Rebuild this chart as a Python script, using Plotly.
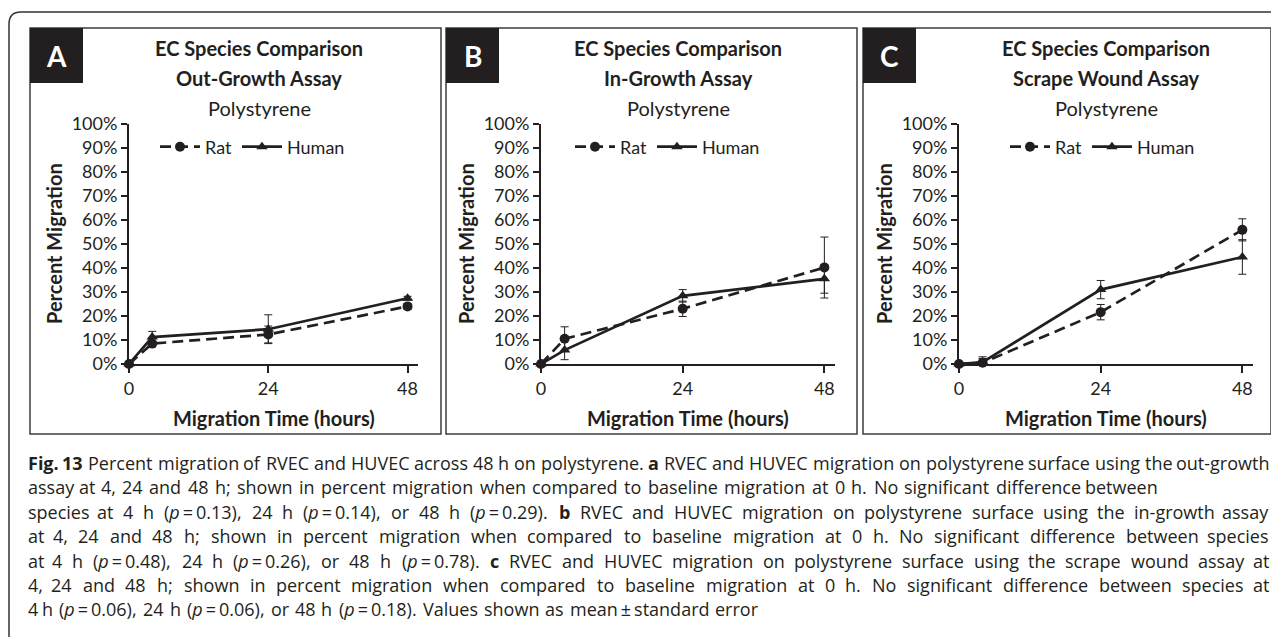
import plotly.graph_objects as go

W, H = 1279, 637
PAGE_OFFSET = 8  # default body margin of the html page

hours = [0, 4, 24, 48]
panel_keys = ["A", "B", "C"]
panel_titles = ["Out-Growth Assay", "In-Growth Assay", "Scrape Wound Assay"]

# percent migration (mean) and standard error
rat_a = [0, 8.5, 12.3, 24.0]
rat_a_err = [None, 1.0, 3.5, 1.2]
human_a = [0, 11.2, 14.5, 27.4]
human_a_err = [None, 2.4, 6.0, 0.8]

rat_b = [0, 10.5, 23.0, 40.2]
rat_b_err = [None, 5.0, 3.2, 12.7]
human_b = [0, 5.8, 28.4, 35.5]
human_b_err = [None, 4.0, 2.6, 6.0]

rat_c = [0, 0.5, 21.6, 55.9]
rat_c_err = [None, 2.5, 3.2, 4.6]
human_c = [0, 0.8, 31.0, 44.6]
human_c_err = [None, 1.5, 3.8, 7.2]

rat = [rat_a, rat_b, rat_c]
rat_err = [rat_a_err, rat_b_err, rat_c_err]
human = [human_a, human_b, human_c]
human_err = [human_a_err, human_b_err, human_c_err]

# caption, one entry per printed line (words separated by plain spaces)
caption_lines = [
    "<b>Fig.</b> <b>13</b> Percent migration of RVEC and HUVEC across 48 h on polystyrene. <b>a</b> RVEC and HUVEC migration on polystyrene surface using the out-growth",
    "assay at 4, 24 and 48 h; shown in percent migration when compared to baseline migration at 0 h. No significant difference between",
    "species at 4 h (<i>p</i>\u2009=\u20090.13), 24 h (<i>p</i>\u2009=\u20090.14), or 48 h (<i>p</i>\u2009=\u20090.29). <b>b</b> RVEC and HUVEC migration on polystyrene surface using the in-growth assay",
    "at 4, 24 and 48 h; shown in percent migration when compared to baseline migration at 0 h. No significant difference between species",
    "at 4 h (<i>p</i>\u2009=\u20090.48), 24 h (<i>p</i>\u2009=\u20090.26), or 48 h (<i>p</i>\u2009=\u20090.78). <b>c</b> RVEC and HUVEC migration on polystyrene surface using the scrape wound assay at",
    "4, 24 and 48 h; shown in percent migration when compared to baseline migration at 0 h. No significant difference between species at",
    "4 h (<i>p</i>\u2009=\u20090.06), 24 h (<i>p</i>\u2009=\u20090.06), or 48 h (<i>p</i>\u2009=\u20090.18). Values shown as mean\u2009\u00b1\u2009standard error",
]
# right edge of each caption line in the reference (None = ragged last line)
caption_ends = [1271, 1160, 1271, 1271, 1271, 1271, None]


def px(x):
    return (x - PAGE_OFFSET) / W


def py(y):
    return 1 - (y - PAGE_OFFSET) / H


INK = "#231f20"
CHART_FONT = "Lato"
CAP_FONT = "Open Sans"
CAP_SIZE = 18

# rough Open Sans advance widths (per 1000 em) to lay out justified lines
_w = dict(a=556, b=613, c=476, d=613, e=561, f=339, g=548, h=614, i=253, j=253, k=525,
          l=253, m=930, n=614, o=604, p=613, q=613, r=408, s=477, t=353, u=614, v=501,
          w=778, x=524, y=502, z=477,
          A=633, B=648, C=631, D=729, E=556, F=516, G=728, H=738, I=279, J=267, K=614,
          L=524, M=900, N=749, O=780, P=602, Q=780, R=618, S=549, T=553, U=728, V=595,
          W=926, X=577, Y=563, Z=562)
_w.update({".": 266, ",": 245, ";": 266, "(": 296, ")": 296, "-": 322, "=": 572,
           "\u00b1": 572, "\u2009": 200, "%": 823})


def word_width(word, size):
    plain = word
    for tag in ("<b>", "</b>", "<i>", "</i>"):
        plain = plain.replace(tag, "")
    total = sum(_w.get(ch, 572 if ch.isdigit() else 560) for ch in plain)
    if "<b>" in word:
        total *= 1.07
    return total * size / 1000


# pixel geometry of the three panels
frames = [(30, 441), (446, 857), (863, 1271)]
axis_x = [(129, 418), (541, 835), (959, 1253)]
title_cx = [259, 678, 1106]
legend_x = [155, 570, 1005]
y_top, y_bot = 124, 364

fig = go.Figure()

for i in range(3):
    sfx = "" if i == 0 else str(i + 1)
    leg = "legend" if i == 0 else f"legend{i + 1}"
    fig.add_trace(go.Scatter(
        x=hours, y=rat[i], name="Rat", mode="lines+markers",
        line=dict(color=INK, width=2.7, dash="11px,6px"),
        marker=dict(symbol="circle", size=10, color=INK),
        error_y=dict(type="data", array=rat_err[i], thickness=1, width=4, color=INK),
        xaxis="x" + sfx, yaxis="y" + sfx, legend=leg, cliponaxis=False,
    ))
    fig.add_trace(go.Scatter(
        x=hours, y=human[i], name="Human", mode="lines+markers",
        line=dict(color=INK, width=2.7),
        marker=dict(symbol="triangle-up", size=10, color=INK),
        error_y=dict(type="data", array=human_err[i], thickness=1, width=4, color=INK),
        xaxis="x" + sfx, yaxis="y" + sfx, legend=leg, cliponaxis=False,
    ))

layout = dict(
    width=W, height=H,
    margin=dict(l=0, r=0, t=0, b=0, autoexpand=False),
    paper_bgcolor="white", plot_bgcolor="rgba(0,0,0,0)",
    font=dict(family=CHART_FONT, color=INK, size=18),
)

for i in range(3):
    sfx = "" if i == 0 else str(i + 1)
    x0, x1 = axis_x[i]
    layout["xaxis" + sfx] = dict(
        domain=[px(x0), px(x1)], range=[0, 49.8], anchor="y" + sfx,
        tickvals=[0, 24, 48], showline=True, linecolor=INK, linewidth=2,
        ticks="outside", ticklen=7, tickwidth=1.5, tickcolor=INK,
        showgrid=False, zeroline=False, tickfont=dict(size=18, color=INK),
        automargin=False, fixedrange=True,
    )
    layout["yaxis" + sfx] = dict(
        domain=[py(y_bot), py(y_top)], range=[0, 100], anchor="x" + sfx,
        dtick=10, ticksuffix="%", showline=True, linecolor=INK, linewidth=2,
        ticks="outside", ticklen=6, tickwidth=1.5, tickcolor=INK,
        showgrid=False, zeroline=False, tickfont=dict(size=18, color=INK),
        automargin=False, fixedrange=True,
    )
    leg = "legend" if i == 0 else f"legend{i + 1}"
    layout[leg] = dict(
        orientation="h", x=px(legend_x[i]), y=py(147), xanchor="left", yanchor="middle",
        bgcolor="rgba(0,0,0,0)", font=dict(size=18, color=INK, family=CHART_FONT),
        itemwidth=40, tracegroupgap=0,
    )

fig.update_layout(**layout)


def note(x, y, text, size, xanchor="center", color=INK, family=CHART_FONT, angle=0):
    return dict(xref="paper", yref="paper", x=px(x), y=py(y), text=text,
                xanchor=xanchor, yanchor="middle", showarrow=False, textangle=angle,
                font=dict(size=size, color=color, family=family))


shapes = []
# outer rounded frame (only top and left visible)
shapes.append(dict(
    type="path", xref="paper", yref="paper",
    path=f"M {px(9)},{py(660)} L {px(9)},{py(24)} Q {px(9)},{py(12)} {px(21)},{py(12)} L {px(1300)},{py(12)}",
    line=dict(color="#333333", width=1.5),
))
annotations = []
for i in range(3):
    fx0, fx1 = frames[i]
    shapes.append(dict(type="rect", xref="paper", yref="paper",
                       x0=px(fx0), x1=px(fx1), y0=py(434), y1=py(28),
                       line=dict(color="#3c3c3c", width=1.5)))
    shapes.append(dict(type="rect", xref="paper", yref="paper",
                       x0=px(fx0), x1=px(fx0 + 53), y0=py(83), y1=py(28),
                       fillcolor=INK, line=dict(width=0)))
    annotations.append(note(fx0 + 26.5, 56, f"<b>{panel_keys[i]}</b>", 28, color="white"))
    cx = title_cx[i]
    annotations.append(note(cx, 48, "<b>EC Species Comparison</b>", 20))
    annotations.append(note(cx, 78, f"<b>{panel_titles[i]}</b>", 20))
    annotations.append(note(cx, 108, "Polystyrene", 20))
    ax0, ax1 = axis_x[i]
    annotations.append(note(ax0 - 75, 244, "<b>Percent Migration</b>", 20, angle=-90))
    annotations.append(note((ax0 + ax1) / 2, 418, "<b>Migration Time (hours)</b>", 20))

# caption: words placed one by one so that the lines come out justified
cap_left = 26
for k, line in enumerate(caption_lines):
    words = line.split(" ")
    widths = [word_width(w, CAP_SIZE) for w in words]
    end = caption_ends[k]
    if end is None:
        gap = 260 * CAP_SIZE / 1000 * 1.2
    else:
        gap = (end - cap_left - sum(widths)) / (len(words) - 1)
    x = cap_left
    yk = 463 + 24.4 * k
    for j, (w, wd) in enumerate(zip(words, widths)):
        if end is not None and j == len(words) - 1:
            annotations.append(note(end, yk, w, CAP_SIZE, xanchor="right", family=CAP_FONT))
        elif j == 0:
            annotations.append(note(cap_left, yk, w, CAP_SIZE, xanchor="left", family=CAP_FONT))
        else:
            annotations.append(note(x + wd / 2, yk, w, CAP_SIZE, family=CAP_FONT))
        x += wd + gap

fig.update_layout(shapes=shapes, annotations=annotations)
fig.write_html("out.html")
